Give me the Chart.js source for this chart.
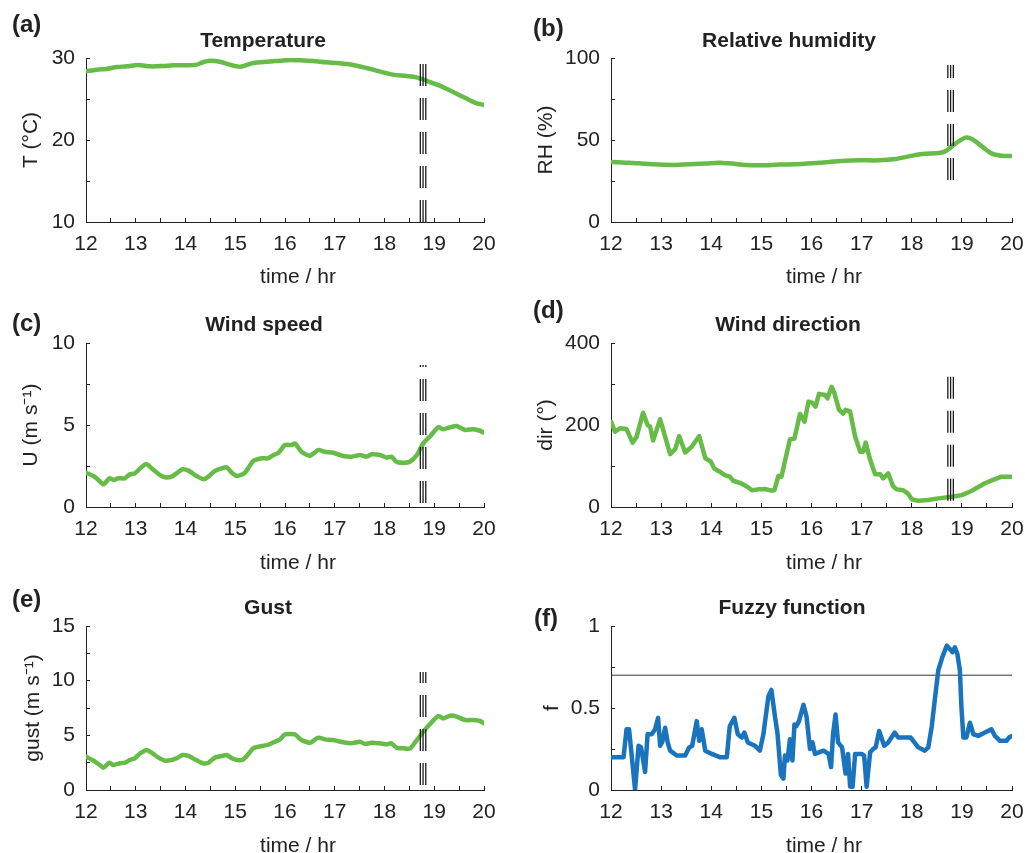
<!DOCTYPE html>
<html lang="en">
<head>
    <title>Weather and fuzzy function</title>
    <script src="https://cdn.jsdelivr.net/npm/chart.js"></script>
    <style>
        body { margin: 0; background: #fff; }
        #page { position: relative; width: 1025px; height: 853px; }
        canvas { position: absolute; }
    </style>
</head>
<body>
<div id="page">
    <canvas id="panelA" width="512" height="290" style="left:0;top:0"></canvas>
    <canvas id="panelB" width="513" height="290" style="left:512px;top:0"></canvas>
    <canvas id="panelC" width="512" height="290" style="left:0;top:290px"></canvas>
    <canvas id="panelD" width="513" height="290" style="left:512px;top:290px"></canvas>
    <canvas id="panelE" width="512" height="273" style="left:0;top:580px"></canvas>
    <canvas id="panelF" width="513" height="273" style="left:512px;top:580px"></canvas>
</div>

<script>
    // (a) temperature
    const tempTime = [12.00, 12.21, 12.41, 12.62, 12.82, 13.05, 13.29, 13.55, 13.75, 14.02, 14.22, 14.36, 14.49, 14.69, 14.89, 15.09, 15.23, 15.36, 15.63, 15.90, 16.10, 16.30, 16.56, 16.83, 17.10, 17.37, 17.64, 17.90, 18.17, 18.44, 18.64, 18.84, 19.11, 19.38, 19.64, 19.84, 20.00];
    const tempVal = [28.37, 28.58, 28.66, 28.90, 28.98, 29.15, 28.98, 29.02, 29.11, 29.11, 29.19, 29.51, 29.67, 29.55, 29.19, 28.94, 29.15, 29.39, 29.55, 29.67, 29.76, 29.72, 29.63, 29.47, 29.35, 29.15, 28.78, 28.37, 27.97, 27.80, 27.64, 27.24, 26.63, 25.85, 25.08, 24.51, 24.27];

    // (b) relative humidity
    const rhTime = [12.00, 12.29, 12.56, 12.82, 13.22, 13.55, 13.89, 14.15, 14.42, 14.68, 15.02, 15.35, 15.68, 16.01, 16.35, 16.68, 17.01, 17.34, 17.67, 17.94, 18.21, 18.54, 18.67, 18.87, 19.07, 19.20, 19.40, 19.60, 19.80, 20.00];
    const rhVal = [36.6, 36.2, 35.8, 35.2, 34.8, 35.2, 35.6, 36.2, 35.6, 34.8, 34.6, 35.0, 35.2, 35.8, 36.6, 37.4, 37.6, 37.6, 38.4, 40.0, 41.5, 42.1, 43.1, 47.8, 51.4, 50.6, 46.1, 41.7, 40.4, 40.2];

    // (c) wind speed
    const windTime = [12.00, 12.15, 12.25, 12.35, 12.47, 12.55, 12.65, 12.78, 12.88, 12.98, 13.09, 13.21, 13.32, 13.49, 13.59, 13.72, 13.82, 13.94, 14.06, 14.19, 14.36, 14.46, 14.59, 14.73, 14.83, 14.93, 15.04, 15.18, 15.26, 15.36, 15.53, 15.66, 15.77, 15.87, 16.00, 16.13, 16.20, 16.33, 16.50, 16.67, 16.80, 16.97, 17.17, 17.34, 17.51, 17.64, 17.74, 17.91, 18.04, 18.14, 18.24, 18.38, 18.51, 18.65, 18.78, 18.91, 19.08, 19.18, 19.32, 19.45, 19.62, 19.79, 19.92, 20.00];
    const windVal = [2.09, 1.89, 1.65, 1.38, 1.75, 1.65, 1.75, 1.75, 1.99, 2.05, 2.36, 2.62, 2.36, 1.95, 1.81, 1.85, 2.05, 2.30, 2.22, 1.95, 1.69, 1.85, 2.20, 2.36, 2.42, 2.09, 1.89, 2.05, 2.36, 2.80, 2.97, 2.97, 3.17, 3.31, 3.78, 3.78, 3.88, 3.37, 3.13, 3.48, 3.37, 3.31, 3.11, 3.07, 3.17, 3.07, 3.21, 3.17, 3.01, 3.07, 2.76, 2.70, 2.76, 3.17, 3.88, 4.29, 4.86, 4.74, 4.86, 4.94, 4.70, 4.74, 4.65, 4.53];

    // (d) wind direction
    const dirTime = [12.00, 12.08, 12.18, 12.31, 12.43, 12.51, 12.64, 12.73, 12.78, 12.84, 12.98, 13.18, 13.28, 13.36, 13.48, 13.61, 13.76, 13.88, 13.99, 14.06, 14.17, 14.27, 14.37, 14.44, 14.57, 14.71, 14.81, 14.94, 15.07, 15.20, 15.26, 15.34, 15.40, 15.57, 15.66, 15.77, 15.86, 15.94, 16.02, 16.08, 16.15, 16.27, 16.32, 16.40, 16.45, 16.55, 16.63, 16.68, 16.77, 16.87, 16.97, 17.03, 17.08, 17.17, 17.27, 17.37, 17.43, 17.53, 17.63, 17.70, 17.83, 17.93, 18.00, 18.13, 18.33, 18.53, 18.80, 19.00, 19.19, 19.46, 19.66, 19.79, 20.00];
    const dirVal = [208, 184, 192, 190, 157, 171, 230, 200, 196, 162, 214, 129, 141, 173, 133, 147, 173, 119, 111, 94, 86, 78, 74, 64, 59, 50, 41, 43, 44, 40, 41, 76, 74, 165, 167, 227, 208, 257, 254, 245, 276, 273, 265, 293, 281, 237, 228, 237, 233, 172, 135, 135, 157, 115, 80, 80, 70, 82, 50, 43, 41, 32, 19, 15, 17, 21, 25, 29, 39, 58, 68, 74, 74];

    // (e) gust
    const gustTime = [12.00, 12.15, 12.25, 12.35, 12.47, 12.55, 12.68, 12.78, 12.88, 12.98, 13.09, 13.22, 13.32, 13.45, 13.59, 13.72, 13.82, 13.94, 14.06, 14.19, 14.35, 14.46, 14.59, 14.73, 14.83, 14.93, 15.04, 15.16, 15.26, 15.36, 15.53, 15.66, 15.77, 15.90, 16.00, 16.20, 16.33, 16.50, 16.67, 16.80, 16.97, 17.17, 17.34, 17.51, 17.61, 17.74, 17.91, 18.04, 18.14, 18.24, 18.38, 18.51, 18.65, 18.78, 18.91, 19.08, 19.18, 19.32, 19.45, 19.62, 19.79, 19.92, 20.00];
    const gustVal = [3.05, 2.68, 2.38, 2.04, 2.50, 2.29, 2.44, 2.50, 2.74, 2.90, 3.35, 3.66, 3.41, 2.99, 2.68, 2.74, 2.90, 3.20, 3.11, 2.80, 2.44, 2.50, 2.96, 3.11, 3.20, 2.90, 2.74, 2.80, 3.26, 3.81, 4.02, 4.12, 4.36, 4.63, 5.09, 5.09, 4.57, 4.33, 4.79, 4.63, 4.57, 4.36, 4.27, 4.42, 4.21, 4.33, 4.27, 4.18, 4.27, 3.87, 3.81, 3.78, 4.57, 5.34, 6.01, 6.77, 6.55, 6.80, 6.71, 6.40, 6.40, 6.31, 6.10];

    // (f) fuzzy function
    const fuzzyTime = [12.00, 12.25, 12.31, 12.36, 12.41, 12.48, 12.55, 12.60, 12.68, 12.73, 12.81, 12.88, 12.94, 12.98, 13.02, 13.08, 13.13, 13.18, 13.31, 13.48, 13.56, 13.62, 13.71, 13.76, 13.81, 13.88, 14.01, 14.17, 14.31, 14.37, 14.46, 14.53, 14.61, 14.66, 14.73, 14.87, 14.97, 15.04, 15.14, 15.20, 15.27, 15.32, 15.39, 15.44, 15.47, 15.52, 15.57, 15.62, 15.66, 15.70, 15.75, 15.84, 15.90, 15.97, 16.02, 16.07, 16.24, 16.34, 16.39, 16.43, 16.48, 16.53, 16.61, 16.68, 16.73, 16.77, 16.82, 16.87, 17.00, 17.05, 17.10, 17.17, 17.23, 17.28, 17.35, 17.45, 17.53, 17.66, 17.73, 17.86, 17.98, 18.13, 18.26, 18.33, 18.40, 18.46, 18.53, 18.61, 18.70, 18.76, 18.81, 18.86, 18.91, 18.96, 18.99, 19.03, 19.09, 19.16, 19.23, 19.33, 19.46, 19.59, 19.66, 19.76, 19.89, 19.94, 20.00];
    const fuzzyVal = [0.20, 0.20, 0.37, 0.37, 0.22, 0.00, 0.27, 0.26, 0.11, 0.34, 0.34, 0.37, 0.44, 0.27, 0.29, 0.38, 0.29, 0.24, 0.21, 0.21, 0.26, 0.27, 0.42, 0.30, 0.37, 0.24, 0.22, 0.20, 0.20, 0.39, 0.44, 0.34, 0.32, 0.35, 0.29, 0.27, 0.24, 0.34, 0.57, 0.61, 0.45, 0.35, 0.09, 0.07, 0.21, 0.18, 0.31, 0.18, 0.40, 0.39, 0.42, 0.52, 0.45, 0.25, 0.29, 0.22, 0.24, 0.22, 0.14, 0.34, 0.46, 0.29, 0.26, 0.10, 0.22, 0.02, 0.02, 0.22, 0.22, 0.21, 0.02, 0.23, 0.25, 0.26, 0.36, 0.27, 0.29, 0.35, 0.32, 0.32, 0.32, 0.26, 0.24, 0.26, 0.39, 0.55, 0.73, 0.81, 0.88, 0.86, 0.84, 0.87, 0.83, 0.73, 0.51, 0.32, 0.32, 0.41, 0.34, 0.33, 0.35, 0.37, 0.33, 0.30, 0.30, 0.32, 0.33];
    const fuzzyThreshold = 0.7;

    // marked event times (triple dashed lines) and their extent in each panel
    const cutTimes = [18.72, 18.775, 18.83];
    const cutRangeT = [10, 29.3];
    const cutRangeRH = [25.6, 95.7];
    const cutRangeU = [0.24, 8.66];
    const cutRangeDir = [15.4, 317.8];
    const cutRangeGust = [0.46, 10.8];

    const green = '#66bc46';
    const blue = '#1a74bd';
    const ink = '#222222';
    const fontFamily = '"Liberation Sans", Arial, Helvetica, sans-serif';

    Chart.defaults.font.family = fontFamily;
    Chart.defaults.font.size = 21;
    Chart.defaults.color = ink;

    function pts(xs, ys) {
        return xs.map((x, i) => ({x: x, y: ys[i]}));
    }

    function isMajor(v, step) {
        return Math.abs(v / step - Math.round(v / step)) < 1e-6;
    }

    // panel label, title and x title drawn on top of each chart
    const panelText = {
        id: 'panelText',
        afterDraw(chart, args, opts) {
            const ctx = chart.ctx;
            ctx.save();
            ctx.fillStyle = ink;
            ctx.textBaseline = 'alphabetic';
            ctx.textAlign = 'left';
            ctx.font = 'bold 24px ' + fontFamily;
            ctx.fillText(opts.label, opts.labelPos[0], opts.labelPos[1]);
            ctx.textAlign = 'center';
            ctx.font = 'bold 21px ' + fontFamily;
            ctx.fillText(opts.title, opts.titlePos[0], opts.titlePos[1]);
            ctx.font = '21px ' + fontFamily;
            ctx.fillText('time / hr', opts.xTitlePos[0], opts.xTitlePos[1]);
            ctx.restore();
        }
    };

    const panels = [
        {id: 'panelA', w: 512, h: 290, area: {l: 86, r: 484, t: 58, b: 222},
         label: '(a)', labelPos: [12, 32], title: 'Temperature', titlePos: [263, 47], xTitlePos: [298, 283],
         yTitle: 'T (°C)', yTitlePad: 19, yMin: 10, yMax: 30, yMajor: 10, yMinor: 5,
         time: tempTime, vals: tempVal, color: green, tension: 0.3, cut: cutRangeT},
        {id: 'panelB', w: 513, h: 290, area: {l: 99, r: 500, t: 58, b: 222},
         label: '(b)', labelPos: [21, 36], title: 'Relative humidity', titlePos: [277, 47], xTitlePos: [312, 283],
         yTitle: 'RH (%)', yTitlePad: 22, yMin: 0, yMax: 100, yMajor: 50, yMinor: 25,
         time: rhTime, vals: rhVal, color: green, tension: 0.3, cut: cutRangeRH},
        {id: 'panelC', w: 512, h: 290, area: {l: 86, r: 484, t: 53, b: 217},
         label: '(c)', labelPos: [12, 41], title: 'Wind speed', titlePos: [264, 41], xTitlePos: [298, 279],
         yTitle: 'U (m s⁻¹)', yTitlePad: 19, yMin: 0, yMax: 10, yMajor: 5, yMinor: 2.5,
         time: windTime, vals: windVal, color: green, tension: 0.2, cut: cutRangeU},
        {id: 'panelD', w: 513, h: 290, area: {l: 99, r: 500, t: 53, b: 217},
         label: '(d)', labelPos: [21, 28], title: 'Wind direction', titlePos: [276, 41], xTitlePos: [312, 279],
         yTitle: 'dir (°)', yTitlePad: 22, yMin: 0, yMax: 400, yMajor: 200, yMinor: 100,
         time: dirTime, vals: dirVal, color: green, tension: 0, cut: cutRangeDir},
        {id: 'panelE', w: 512, h: 273, area: {l: 86, r: 484, t: 46, b: 210},
         label: '(e)', labelPos: [12, 27], title: 'Gust', titlePos: [268, 34], xTitlePos: [298, 272],
         yTitle: 'gust (m s⁻¹)', yTitlePad: 21, yMin: 0, yMax: 15, yMajor: 5, yMinor: 2.5,
         time: gustTime, vals: gustVal, color: green, tension: 0.2, cut: cutRangeGust},
        {id: 'panelF', w: 513, h: 273, area: {l: 99, r: 500, t: 46, b: 210},
         label: '(f)', labelPos: [22, 46], title: 'Fuzzy function', titlePos: [280, 34], xTitlePos: [312, 272],
         yTitle: 'f', yTitlePad: 28, yMin: 0, yMax: 1, yMajor: 0.5, yMinor: 0.25,
         time: fuzzyTime, vals: fuzzyVal, color: blue, tension: 0, cut: null, threshold: fuzzyThreshold}
    ];

    function makePanel(p) {
        const datasets = [];

        if (p.cut) {
            cutTimes.forEach(t => {
                datasets.push({
                    // bottom first so the dash pattern starts at the bottom
                    data: [{x: t, y: p.cut[0]}, {x: t, y: p.cut[1]}],
                    borderColor: '#1a1a1a', borderWidth: 1.3, borderDash: [22, 12],
                    pointRadius: 0, order: 0
                });
            });
        }

        datasets.push({
            data: pts(p.time, p.vals),
            borderColor: p.color, borderWidth: 4.5, tension: p.tension,
            borderJoinStyle: 'round', borderCapStyle: 'round',
            pointRadius: 0, order: 1
        });

        if (p.threshold !== undefined) {
            datasets.push({
                data: [{x: 12, y: p.threshold}, {x: 20, y: p.threshold}],
                borderColor: '#333333', borderWidth: 1, pointRadius: 0, order: 2
            });
        }

        const gridOpts = {drawOnChartArea: false, drawTicks: true, tickLength: -4, color: ink};
        const borderOpts = {display: true, color: ink, width: 1};

        new Chart(document.getElementById(p.id), {
            type: 'line',
            data: {datasets: datasets},
            plugins: [panelText],
            options: {
                responsive: false,
                animation: false,
                events: [],
                layout: {padding: {left: 0, top: p.area.t, right: p.w - p.area.r, bottom: 0}},
                plugins: {
                    legend: {display: false},
                    tooltip: {enabled: false},
                    title: {display: false},
                    panelText: {label: p.label, labelPos: p.labelPos, title: p.title,
                                titlePos: p.titlePos, xTitlePos: p.xTitlePos}
                },
                scales: {
                    x: {
                        type: 'linear', min: 12, max: 20,
                        ticks: {stepSize: 0.5, autoSkip: false, maxRotation: 0, padding: 14, color: ink,
                                callback: v => isMajor(v, 1) ? String(Math.round(v)) : ''},
                        grid: gridOpts,
                        border: borderOpts,
                        afterFit(s) { s.height = p.h - p.area.b; s.paddingLeft = 0; s.paddingRight = 0; }
                    },
                    y: {
                        type: 'linear', min: p.yMin, max: p.yMax,
                        ticks: {stepSize: p.yMinor, autoSkip: false, padding: 15, color: ink,
                                callback: v => isMajor(v, p.yMajor) ? String(parseFloat(v.toFixed(3))) : ''},
                        grid: gridOpts,
                        border: borderOpts,
                        title: {display: true, text: p.yTitle, color: ink, padding: {top: p.yTitlePad, bottom: 0}},
                        afterFit(s) { s.width = p.area.l; s.paddingTop = 0; s.paddingBottom = 0; }
                    }
                }
            }
        });
    }

    panels.forEach(makePanel);
</script>
</body>
</html>
